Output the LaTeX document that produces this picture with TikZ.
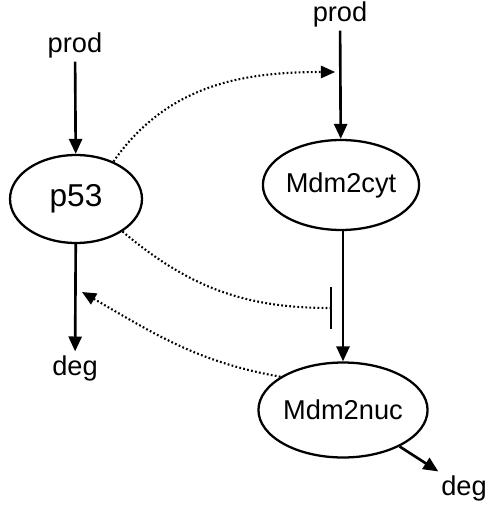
\documentclass[tikz,border=0pt]{standalone}
\usepackage{fontspec}
\setmainfont{Liberation Sans}
\usetikzlibrary{shapes.geometric,arrows.meta}

\begin{document}
\begin{tikzpicture}[x=0.02cm, y=0.02cm]
\tikzstyle{every node}+=[inner sep=2pt, font=\fontsize{15.5}{18}\selectfont]
\tikzset{species/.style={draw, ellipse, line width=1.3pt, inner sep=0pt},
  flow/.style={line width=1.5pt, -{Triangle[length=8.5pt,width=7.4pt]}},
  effect/.style={line width=1.2pt, dash pattern=on 1pt off 1.3pt}}
\useasboundingbox (0,0) rectangle (488,-506);
% species
\node [species, minimum width=2.64cm, minimum height=1.76cm, font=\fontsize{18}{21}\selectfont] (p53) at (76,-199) {p53};
\node [species, minimum width=2.62cm, minimum height=1.8cm] (cyt) at (341,-185) {Mdm2cyt};
\node [species, minimum width=2.7cm, minimum height=1.9cm] (nuc) at (343,-410) {Mdm2nuc};
% sources and sinks
\node (prodL) at (75,-45) {prod};
\node (degL) at (75,-368) {deg};
\node (prodR) at (340,-14) {prod};
\node (degR) at (464,-488) {deg};
\coordinate (tipA) at (335,-72);
\coordinate (barB) at (332,-308);
\coordinate (tipC) at (82,-292);
% reactions
\draw [flow] (prodL) -- (p53);
\draw [flow] (p53) -- (degL);
\draw [flow] (prodR) -- (cyt);
\draw [flow] (cyt.south -| nuc.north) -- (nuc);
\draw [flow] (nuc) -- (degR);
% regulation
\draw [effect, -{Triangle[length=8pt,width=7pt]}] (p53.45) to[out=55, in=180] (tipA);
\draw [effect, -{Bar[width=24pt, line width=1.2pt]}] (p53.-35) to[out=-40, in=180] (barB);
\draw [effect, -{Triangle[length=8pt,width=7pt]}] (nuc.152) to[out=170, in=-30] (tipC);
\end{tikzpicture}
\end{document}
